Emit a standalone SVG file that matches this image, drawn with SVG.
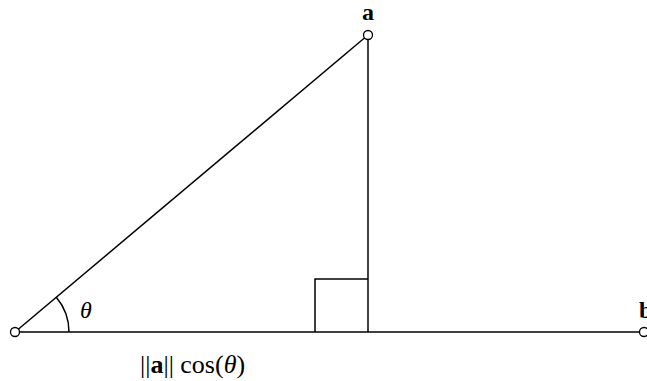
<svg xmlns="http://www.w3.org/2000/svg" width="647" height="381" viewBox="0 0 647 381">
<style>
.ln{stroke:#000;stroke-width:1.5;fill:none}
.pt{stroke:#000;stroke-width:1.3;fill:#fff}
.t{font-family:"Liberation Serif","Times New Roman",serif;font-size:24px;fill:#000}
.b{font-weight:bold}
.i{font-style:italic}
</style>
<g id="connectors">
<line class="ln" x1="15" y1="332" x2="644" y2="332"/>
<line class="ln" x1="15" y1="332" x2="368" y2="35"/>
<line class="ln" x1="368" y1="35" x2="368" y2="332"/>
<polyline class="ln" points="315,332 315,279 368,279"/>
<path class="ln" d="M69,332 A54,54 0 0 0 56.3,297.2"/>
</g>
<g id="origin"><circle class="pt" cx="15" cy="332" r="4.5"/></g>
<g id="a"><circle class="pt" cx="368" cy="35" r="4.5"/><text class="t b" x="368" y="20" text-anchor="middle">a</text></g>
<g id="b"><circle class="pt" cx="644" cy="332" r="4.5"/><text class="t b" x="639" y="318">b</text></g>
<g id="theta"><text class="t i" x="80" y="318">θ</text></g>
<g id="proj"><text class="t" x="140" y="373" style="font-size:26px">||<tspan class="b">a</tspan>|| cos(<tspan class="i">θ</tspan>)</text></g>
</svg>
